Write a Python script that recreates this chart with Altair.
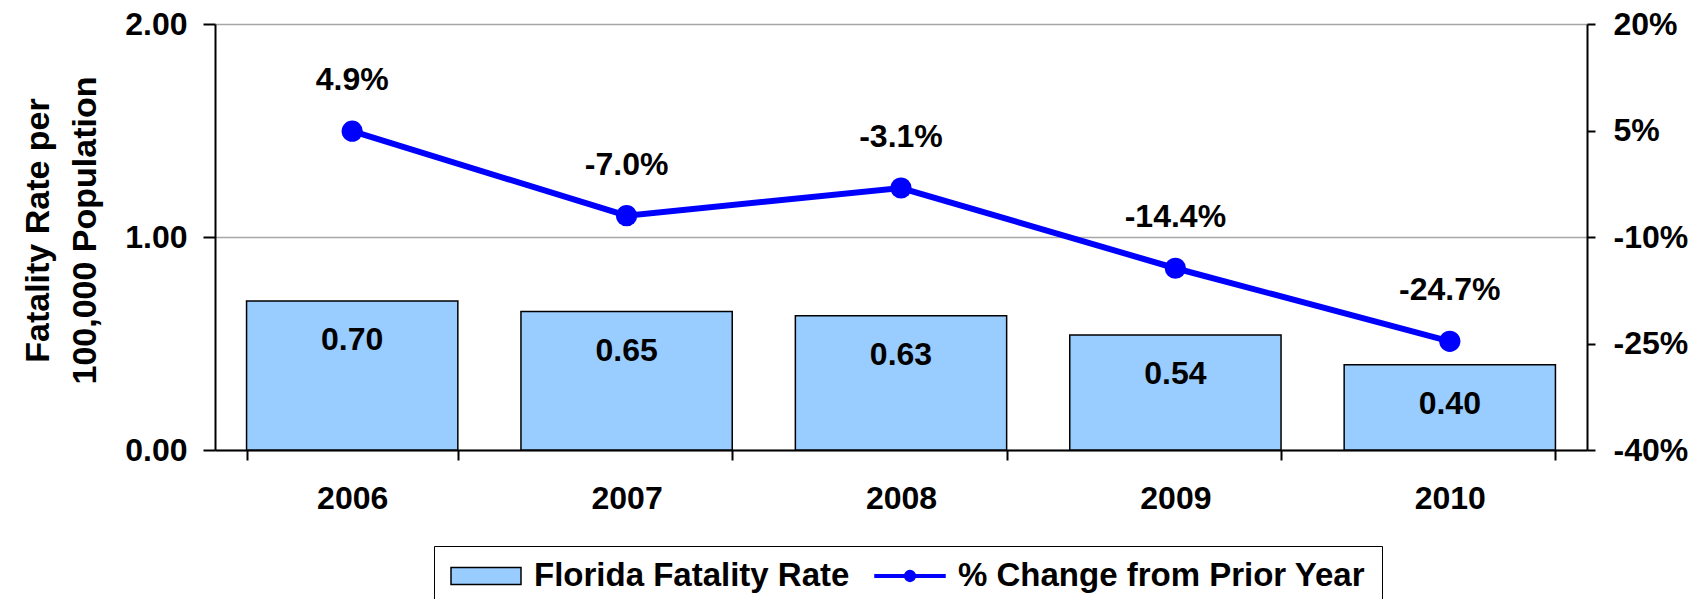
import altair as alt
import pandas as pd

years = ["2006", "2007", "2008", "2009", "2010"]
fatality_rate = [0.70, 0.65, 0.63, 0.54, 0.40]
pct_change = [4.9, -7.0, -3.1, -14.4, -24.7]

bar_name = "Florida Fatality Rate"
line_name = "% Change from Prior Year"
series_names = [bar_name, line_name]
left_ticks = [0, 1, 2]
right_ticks = [-40, -25, -10, 5, 20]

df = pd.DataFrame({
    "year": years,
    "rate": fatality_rate,
    "pct": pct_change,
    "rate_label": [f"{v:.2f}" for v in fatality_rate],
    "pct_label": [f"{v:.1f}%" for v in pct_change],
})
legend_df = pd.DataFrame({"series": series_names})

FONT = "Liberation Sans"
BAR_FILL = "#99CCFF"
LINE_COL = "#0000FF"

rect_path = "M-1,-0.243L1,-0.243L1,0.243L-1,0.243Z"
line_path = ("M-1,-0.035L1,-0.035L1,0.035L-1,0.035Z"
             "M-0.155,0A0.155,0.155 0 1,1 0.155,0A0.155,0.155 0 1,1 -0.155,0Z")

legend = alt.Legend(
    title=None,
    orient="none",
    legendX=219,
    legendY=522,
    direction="horizontal",
    labelFont=FONT,
    labelFontSize=33,
    labelFontWeight="bold",
    labelColor="black",
    labelLimit=800,
    symbolSize=4900,
    symbolOpacity=1,
    symbolStrokeWidth=1.5,
    clipHeight=28,
    labelOffset=12,
    columnPadding=24,
    padding=16,
    strokeColor="black",
)

x_enc = alt.X(
    "year:N",
    title=None,
    scale=alt.Scale(paddingInner=0.23, paddingOuter=0.115),
    axis=alt.Axis(
        labelAngle=0,
        labelFont=FONT,
        labelFontSize=32,
        labelFontWeight="bold",
        labelColor="black",
        labelPadding=23,
        tickBand="extent",
        tickSize=10,
        tickColor="black",
        tickWidth=2,
        domainColor="black",
        domainWidth=2,
        grid=False,
    ),
)

left_axis = alt.Axis(
    values=left_ticks,
    format=".2f",
    labelFont=FONT,
    labelFontSize=32,
    labelFontWeight="bold",
    labelColor="black",
    labelPadding=16,
    tickSize=12,
    tickColor="black",
    tickWidth=2,
    domainColor="black",
    domainWidth=2,
    grid=True,
    gridColor="#A6A6A6",
    gridWidth=1.5,
    title=["Fatality Rate per", "100,000 Population"],
    titleFont=FONT,
    titleFontSize=34,
    titleFontWeight="bold",
    titleColor="black",
    titleAngle=270,
    titleX=-177,
    titleY=206,
    titleAlign="center",
    titleBaseline="middle",
    titleLineHeight=47,
)

y_left = alt.Y("rate:Q", scale=alt.Scale(domain=[0, 2]), axis=left_axis)

right_axis = alt.Axis(
    orient="right",
    values=right_ticks,
    labelExpr="(datum.value < 0 ? '-' : '') + abs(datum.value) + '%'",
    labelFont=FONT,
    labelFontSize=32,
    labelFontWeight="bold",
    labelColor="black",
    labelPadding=18,
    tickSize=8,
    tickColor="black",
    tickWidth=2,
    domainColor="black",
    domainWidth=2,
    grid=False,
    title=None,
)

y_right = alt.Y("pct:Q", scale=alt.Scale(domain=[-40, 20]), axis=right_axis)

base = alt.Chart(df)

bars = base.mark_bar(fill=BAR_FILL, stroke="black", strokeWidth=1.5).encode(
    x=x_enc, y=y_left
)

bar_text = base.mark_text(
    font=FONT, fontSize=32, fontWeight="bold", color="black", baseline="middle", dy=39
).encode(x=x_enc, y=y_left, text="rate_label:N")

left = alt.layer(bars, bar_text)

line = base.mark_line(strokeWidth=6, color=LINE_COL).encode(x=x_enc, y=y_right)

points = base.mark_point(filled=True, size=450, opacity=1, color=LINE_COL).encode(
    x=x_enc, y=y_right
)

line_text = base.mark_text(
    font=FONT, fontSize=32, fontWeight="bold", color="black", baseline="middle", dy=-51
).encode(x=x_enc, y=y_right, text="pct_label:N")

right = alt.layer(line, points, line_text)

key = alt.Chart(legend_df).mark_point(filled=True, opacity=0).encode(
    color=alt.Color("series:N", scale=alt.Scale(domain=series_names, range=[BAR_FILL, LINE_COL]), legend=legend),
    shape=alt.Shape("series:N", scale=alt.Scale(domain=series_names, range=[rect_path, line_path]), legend=legend),
    stroke=alt.Stroke("series:N", scale=alt.Scale(domain=series_names, range=["black", LINE_COL]), legend=legend),
)

chart = (
    alt.layer(left, right, key)
    .resolve_scale(y="independent")
    .properties(
        width=1372,
        height=426,
        autosize=alt.AutoSizeParams(type="none"),
        padding={"left": 207, "top": 16, "right": 112, "bottom": 149},
    )
    .configure_view(stroke=None)
)

chart.save("out.html", embed_options={"renderer": "svg", "actions": False})
